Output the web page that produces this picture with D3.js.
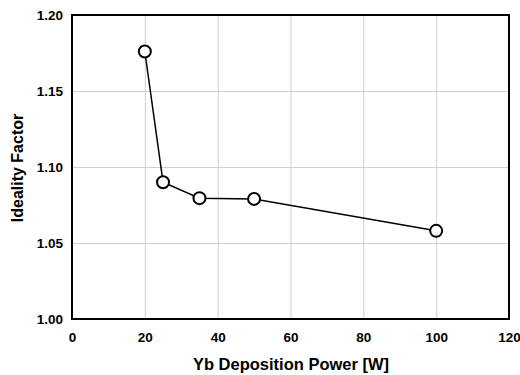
<html>
<head>
<script src="https://d3js.org/d3.v7.min.js"></script>
<style>
	body { margin: 0; background: white; }
</style>
</head>
<body>
<svg id="chart" width="520" height="375"></svg>
<script>

// Data
var power = [20, 25, 35, 50, 100];
var ideality = [1.176, 1.090, 1.0795, 1.079, 1.058];
var xticks = [0, 20, 40, 60, 80, 100, 120];
var yticks = [1.00, 1.05, 1.10, 1.15, 1.20];

var svg = d3.select("#chart");

// Plot area
var pLeft = 72, pRight = 509, pTop = 15, pBottom = 319;
var font = "Liberation Sans, Arial, sans-serif";

var x = d3.scaleLinear().domain([0, 120]).range([pLeft, pRight]);
var y = d3.scaleLinear().domain([1.00, 1.20]).range([pBottom, pTop]);

// Gridlines
svg.append("g")
	.attr("transform", "translate(0," + pBottom + ")")
	.call(d3.axisBottom(x).tickValues(xticks).tickSize(-(pBottom - pTop)).tickFormat(""))
	.call(function(g) { g.select(".domain").remove(); })
	.selectAll("line").attr("stroke", "#d0d0d0").attr("stroke-width", 1);

svg.append("g")
	.attr("transform", "translate(" + pLeft + ",0)")
	.call(d3.axisLeft(y).tickValues(yticks).tickSize(-(pRight - pLeft)).tickFormat(""))
	.call(function(g) { g.select(".domain").remove(); })
	.selectAll("line").attr("stroke", "#d0d0d0").attr("stroke-width", 1);

// Frame
svg.append("rect")
	.attr("x", pLeft).attr("y", pTop)
	.attr("width", pRight - pLeft).attr("height", pBottom - pTop)
	.attr("fill", "none").attr("stroke", "black").attr("stroke-width", 2);

// Axes labels
var xa = svg.append("g")
	.attr("transform", "translate(0," + pBottom + ")")
	.call(d3.axisBottom(x).tickValues(xticks).tickSize(0).tickPadding(13));
xa.select(".domain").remove();
xa.selectAll("text").style("font-family", font).style("font-size", "13.5px").style("font-weight", "bold").attr("fill", "black");

var ya = svg.append("g")
	.attr("transform", "translate(" + pLeft + ",0)")
	.call(d3.axisLeft(y).tickValues(yticks).tickSize(0).tickPadding(9).tickFormat(d3.format(".2f")));
ya.select(".domain").remove();
ya.selectAll("text").style("font-family", font).style("font-size", "13.5px").style("font-weight", "bold").attr("fill", "black");

// Axis titles
svg.append("text")
	.attr("x", 291).attr("y", 370)
	.attr("text-anchor", "middle")
	.style("font-family", font).style("font-size", "16.5px").style("font-weight", "bold")
	.text("Yb Deposition Power [W]");

svg.append("text")
	.attr("transform", "translate(23,168) rotate(-90)")
	.attr("text-anchor", "middle")
	.style("font-family", font).style("font-size", "16px").style("font-weight", "bold")
	.text("Ideality Factor");

// Line and markers
var pts = power.map(function(p, i) { return { x: p, y: ideality[i] }; });

svg.append("path")
	.datum(pts)
	.attr("fill", "none").attr("stroke", "black").attr("stroke-width", 1.5)
	.attr("d", d3.line().x(function(d) { return x(d.x); }).y(function(d) { return y(d.y); }));

svg.selectAll(".pt")
	.data(pts)
	.enter().append("circle")
	.attr("class", "pt")
	.attr("cx", function(d) { return x(d.x); })
	.attr("cy", function(d) { return y(d.y); })
	.attr("r", 6)
	.attr("fill", "white").attr("stroke", "black").attr("stroke-width", 2);

</script>
</body>
</html>
